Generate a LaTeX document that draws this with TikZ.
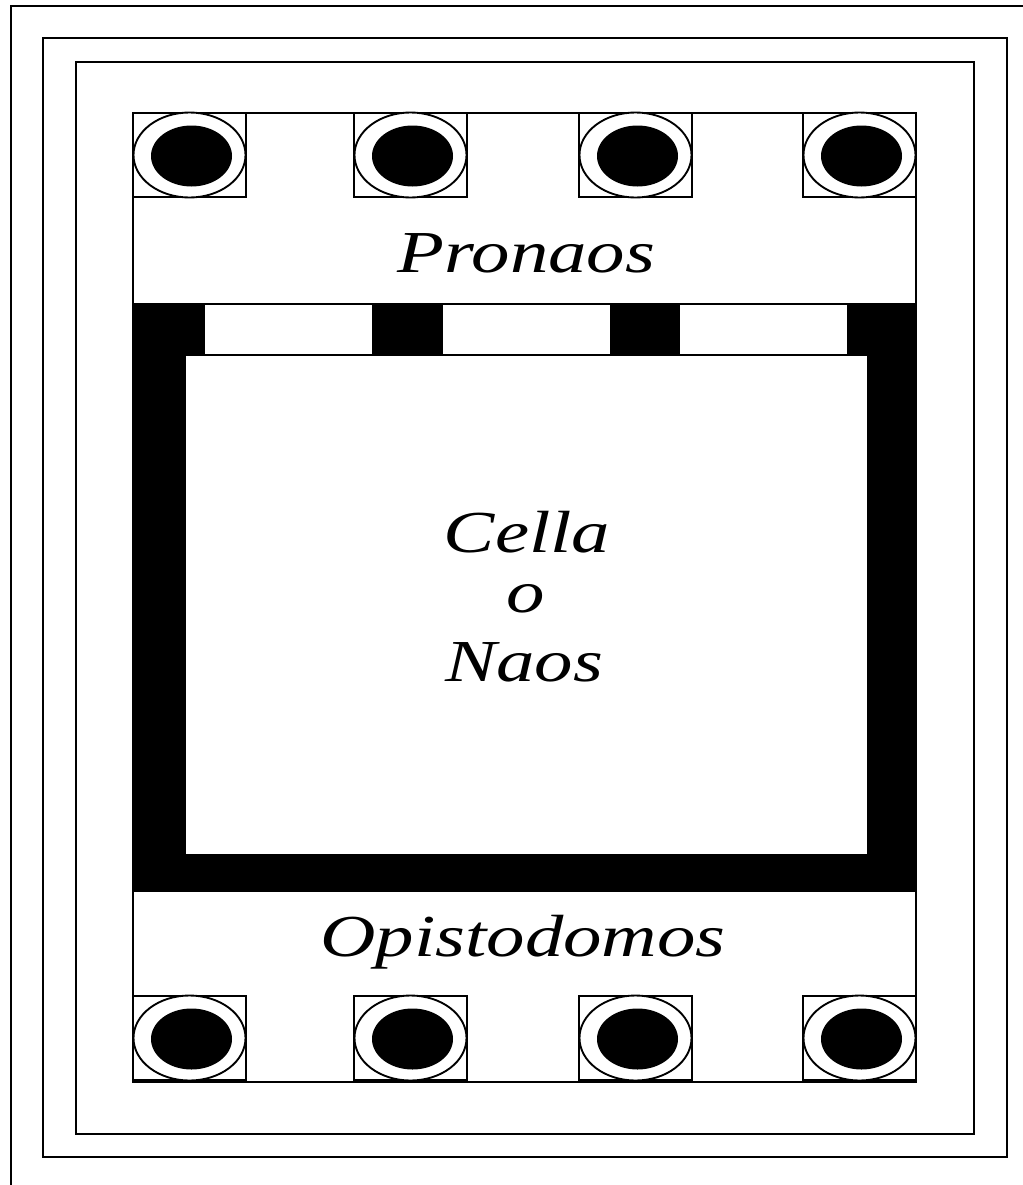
\documentclass[tikz,border=0pt]{standalone}
\usepackage{fontspec}
\setmainfont{Liberation Serif}
\tikzset{
  px/.style={x=0.75pt,y=-0.75pt},
  wall/.style={draw=black,line width=2.2pt},
  thin wall/.style={draw=black,line width=1.6pt},
  colbox/.style={draw=black,line width=1.4pt,fill=white},
  ringshape/.style={draw=black,line width=1.4pt,fill=white},
  shaft/.style={fill=black},
  lab/.style={font=\itshape\fontsize{47pt}{50pt}\selectfont,inner sep=0pt,xscale=1.225,yscale=0.95}
}
\newcommand{\column}[2]{%
  \draw[colbox] (#1,#2-42) rectangle (#1+113,#2+42);
  \draw[ringshape] (#1+56.5,#2) ellipse [x radius=56,y radius=42.5];
  \fill[shaft] (#1+58.5,#2+1) ellipse [x radius=40.5,y radius=30.5];
}
\begin{document}
\begin{tikzpicture}[px]
\useasboundingbox (0,0) rectangle (1023,1185);
\fill[white] (0,0) rectangle (1023,1185);
% outer lines
\coordinate (oa) at (11,1185);
\coordinate (ob) at (11,6);
\coordinate (oc) at (1023,6);
\draw[wall] (oa) -- (ob) -- (oc);
\draw[thin wall] (43,38) rectangle (1007,1157);
\draw[thin wall] (76,62) rectangle (974,1134);
% temple
\draw[thin wall] (133,113) rectangle (916,1082);
\fill[black] (133,303) rectangle (916,892);
\fill[white] (186,356) rectangle (867,854);
\fill[white] (205,305) rectangle (372,354);
\fill[white] (443,305) rectangle (610,354);
\fill[white] (680,305) rectangle (847,354);
% columns
\foreach \cx in {133,354,579,803}{
  \column{\cx}{155}
  \column{\cx}{1038}
}
\node[lab] (pronaos) at (526.5,253) {Pronaos};
\node[lab] (cella) at (527,532) {Cella};
\node[lab] (o) at (526,599) {o};
\node[lab] (naos) at (524,662) {Naos};
\node[lab] (opisto) at (523,942) {Opistodomos};
\end{tikzpicture}
\end{document}
